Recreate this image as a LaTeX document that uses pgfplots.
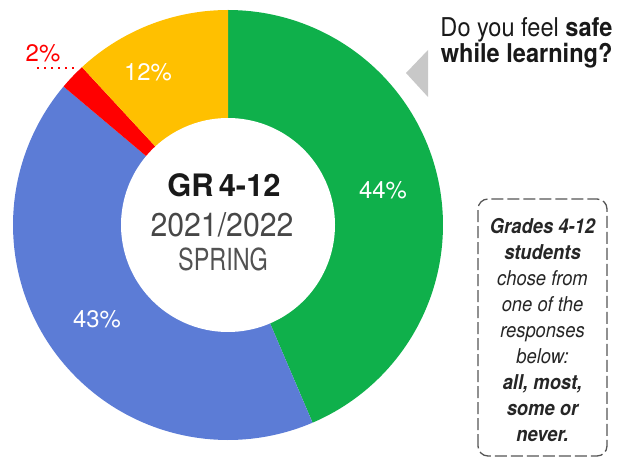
\documentclass[border=0pt]{standalone}
\usepackage{pgfplots}
\pgfplotsset{compat=1.18}
\usepackage{pgfplotstable}
\usepackage{fontspec}
\setmainfont{TeX Gyre Heros}
\newfontfamily\fTitle{TeX Gyre Heros}[FakeStretch=0.91]
\newfontfamily\fBox{TeX Gyre Heros}[FakeStretch=0.9]
\newfontfamily\fYear{TeX Gyre Heros}[FakeStretch=0.92]
\newfontfamily\fSpring{TeX Gyre Heros}[FakeStretch=0.77]
\definecolor{cgreen}{HTML}{0FB04B}
\definecolor{cblue}{HTML}{5C7CD6}
\definecolor{cred}{HTML}{FF0000}
\definecolor{cyellow}{HTML}{FFC000}
\definecolor{ctri}{HTML}{C8C8C8}
\definecolor{cbox}{HTML}{555555}
\pgfplotstableread{
pct
44
43
2
12
}\safedata
\begin{document}
\begin{tikzpicture}
\pgfplotstablegetelem{0}{pct}\of\safedata \let\vA\pgfplotsretval
\pgfplotstablegetelem{1}{pct}\of\safedata \let\vB\pgfplotsretval
\pgfplotstablegetelem{2}{pct}\of\safedata \let\vC\pgfplotsretval
\pgfplotstablegetelem{3}{pct}\of\safedata \let\vD\pgfplotsretval
\pgfmathsetmacro\tot{\vA+\vB+\vC+\vD}
\pgfmathsetmacro\aA{90}
\pgfmathsetmacro\aB{\aA-360*\vA/\tot}
\pgfmathsetmacro\aC{\aB-360*\vB/\tot}
\pgfmathsetmacro\aD{\aC-360*\vC/\tot}
\pgfmathsetmacro\aE{\aD-360*\vD/\tot}
\begin{axis}[
  hide axis, scale only axis, width=620bp, height=461bp,
  xmin=0, xmax=620, ymin=0, ymax=461, clip=false,
]
\path (axis cs:0,0) rectangle (axis cs:620,461);
% slices
\addplot[fill=cgreen, draw=none, domain=\aB:\aA, samples=100] ({228+215*cos(x)},{236+215*sin(x)}) -- (axis cs:228,236) -- cycle;
\addplot[fill=cblue, draw=none, domain=\aC:\aB, samples=100] ({228+215*cos(x)},{236+215*sin(x)}) -- (axis cs:228,236) -- cycle;
\addplot[fill=cred, draw=none, domain=\aD:\aC, samples=10] ({228+215*cos(x)},{236+215*sin(x)}) -- (axis cs:228,236) -- cycle;
\addplot[fill=cyellow, draw=none, domain=\aE:\aD, samples=40] ({228+215*cos(x)},{236+215*sin(x)}) -- (axis cs:228,236) -- cycle;
\addplot[fill=white, draw=none, domain=0:360, samples=150] ({228+107*cos(x)},{236+107*sin(x)}) -- cycle;
% percentage labels
\node[text=white, font=\fontsize{24}{24}\selectfont] at (axis cs:383,271) {44\%};
\node[text=white, font=\fontsize{24}{24}\selectfont] at (axis cs:97,142) {43\%};
\node[text=white, font=\fontsize{24}{24}\selectfont] at (axis cs:148,389) {12\%};
\node[text=cred, font=\fontsize{24}{24}\selectfont] at (axis cs:43,408) {2\%};
\addplot[cred, line width=2bp, dash pattern=on 2bp off 5bp] coordinates {(37,393) (76,393)};
% centre text
\node[anchor=base, text=black!90, font=\bfseries\fontsize{31}{31}\selectfont] at (axis cs:224,264) {GR\,4-12};
\node[anchor=base, text=black!72, font=\fYear\fontsize{33}{33}\selectfont] at (axis cs:222,224) {2021/2022};
\node[anchor=base, text=black!68, font=\fSpring\fontsize{30.5}{30.5}\selectfont] at (axis cs:223,191) {SPRING};
% title
\node[anchor=base east, text=black!90, font=\fTitle\fontsize{26}{26}\selectfont] at (axis cs:616,424) {Do you feel \textbf{safe}};
\node[anchor=base east, text=black!90, font=\fTitle\bfseries\fontsize{26}{26}\selectfont] at (axis cs:616,398) {while learning?};
\addplot[fill=ctri, draw=none] coordinates {(406,388) (428,411) (428,364)} -- cycle;
% note box
\draw[cbox, line width=1.3bp, rounded corners=10bp, dash pattern=on 12bp off 4bp] (axis cs:478,5) rectangle (axis cs:607,262);
\node[align=center, text=black!85, font=\fBox\itshape\fontsize{20.5}{26}\selectfont] at (axis cs:542.5,131) {\textbf{Grades 4-12}\\ \textbf{students}\\ chose from\\ one of the\\ responses\\ below:\\ \textbf{all, most,}\\ \textbf{some or}\\ \textbf{never.}};
\end{axis}
\end{tikzpicture}
\end{document}
